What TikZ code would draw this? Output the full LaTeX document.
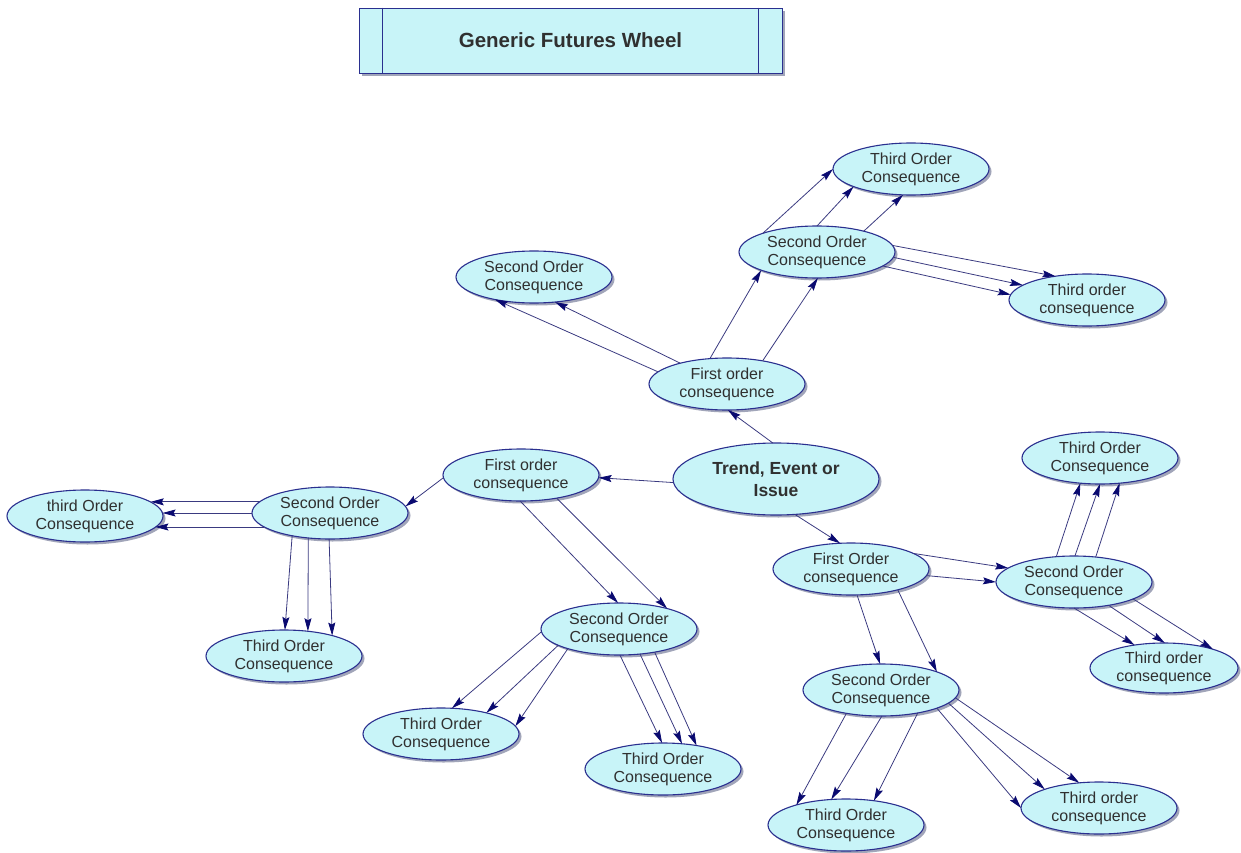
\documentclass[tikz,border=0pt]{standalone}
\usepackage{fontspec}
\setmainfont{Liberation Sans}
\usetikzlibrary{shapes.geometric,arrows.meta,shadows}
\definecolor{cyanfill}{HTML}{C8F4F8}
\definecolor{edgeblue}{HTML}{2A2F8F}
\definecolor{linecol}{HTML}{3A3A80}
\definecolor{tipcol}{HTML}{0A0A70}
\definecolor{shadowcol}{HTML}{8A8FA8}
\definecolor{textcol}{HTML}{303030}
\tikzset{
  ell/.style={ellipse, draw=edgeblue, line width=1.1pt, fill=cyanfill,
    minimum width=156pt, minimum height=52pt, inner sep=0pt, outer sep=0pt,
    align=center, text=textcol, font=\fontsize{16}{18}\selectfont,
    drop shadow={shadow xshift=2.5pt, shadow yshift=-2.5pt, fill=shadowcol, opacity=0.8}},
  centre/.style={ell, minimum width=206pt, minimum height=72pt,
    font=\fontsize{17.5}{22}\selectfont\bfseries},
  titlebox/.style={rectangle, draw=edgeblue, line width=0.8pt, fill=cyanfill,
    minimum width=423pt, minimum height=65pt, inner sep=0pt, text=textcol,
    font=\fontsize{20.5}{24}\selectfont\bfseries,
    drop shadow={shadow xshift=3pt, shadow yshift=-3pt, fill=shadowcol, opacity=0.8}},
  arr/.style={draw=linecol, line width=0.8pt,
    -{Stealth[length=13pt, width=7pt, inset=2pt, color=tipcol]}},
}
\begin{document}
\begin{tikzpicture}[x=1pt,y=-1pt]
\useasboundingbox (0,0) rectangle (1241,853);

% title
\node[titlebox] (title) at (570.5,40.5) {Generic Futures Wheel};
\draw[draw=edgeblue, line width=1.2pt] ([xshift=24pt]title.north west) -- ([xshift=24pt]title.south west);
\draw[draw=edgeblue, line width=1.2pt] ([xshift=-24pt]title.north east) -- ([xshift=-24pt]title.south east);

% nodes
\node[centre] (C) at (776,479) {Trend, Event or\\Issue};
\node[ell] (F1) at (727,384) {First order\\consequence};
\node[ell] (S1) at (534,277) {Second Order\\Consequence};
\node[ell] (S2) at (817,252) {Second Order\\Consequence};
\node[ell] (T1) at (911,169) {Third Order\\Consequence};
\node[ell] (T2) at (1087,300) {Third order\\consequence};
\node[ell] (F2) at (521,475) {First order\\consequence};
\node[ell] (S3) at (330,513) {Second Order\\Consequence};
\node[ell] (T3) at (85,516) {third Order\\Consequence};
\node[ell] (T4) at (284,656) {Third Order\\Consequence};
\node[ell] (S4) at (619,629) {Second Order\\Consequence};
\node[ell] (T5) at (441,734) {Third Order\\Consequence};
\node[ell] (T6) at (663,769) {Third Order\\Consequence};
\node[ell] (F3) at (851,569) {First Order\\consequence};
\node[ell] (S5) at (1074,582) {Second Order\\Consequence};
\node[ell] (T7) at (1100,458) {Third Order\\Consequence};
\node[ell, minimum width=148pt, minimum height=50pt] (T8) at (1164,668) {Third order\\consequence};
\node[ell] (S6) at (881,690) {Second Order\\Consequence};
\node[ell] (T9) at (846,825) {Third Order\\Consequence};
\node[ell] (T10) at (1099,808) {Third order\\consequence};

% connectors
\draw[arr] (C.95) -- (F1.-88);
\draw[arr] (C.182) -- (F2.-2);
\draw[arr] (C.-62) -- (F3.113);

\draw[arr] (F1.170) -- (S1.210);
\draw[arr] (F1.156) -- (S1.-50);
\draw[arr] (F1.124) -- (S2.198);
\draw[arr] (F1.33) -- (S2.-88);

\draw[arr] (S2.161) -- (T1.180);
\draw[arr] (S2.90) -- (T1.197);
\draw[arr] (S2.24) -- (T1.-107);
\draw[arr] (S2.5) -- (T2.143);
\draw[arr] (S2.-4) -- (T2.167);
\draw[arr] (S2.-12) -- (T2.176);

\draw[arr] (F2.182) -- (S3.5);
\draw[arr] (S3.171) -- (T3.12 |- S3.171);
\draw[arr] (S3.180) -- (T3.2 |- S3.180);
\draw[arr] (S3.192) -- (T3.-9 |- S3.192);
\draw[arr] (S3.211) -- (T4.88);
\draw[arr] (S3.229) -- (T4.46);
\draw[arr] (S3.268) -- (T4.23);

\draw[arr] (F2.268) -- (S4.92);
\draw[arr] (F2.-33) -- (S4.23);
\draw[arr] (S4.182) -- (T5.67);
\draw[arr] (S4.195) -- (T5.25);
\draw[arr] (S4.201) -- (T5.6);
\draw[arr] (S4.-88) -- (T6.92);
\draw[arr] (S4.-50) -- (T6.53);
\draw[arr] (S4.-33) -- (T6.35);

\draw[arr] (F3.14) -- (S5.168);
\draw[arr] (F3.-5) -- (S5.180);
\draw[arr] (F3.-77) -- (S6.92);
\draw[arr] (F3.-24) -- (S6.18);

\draw[arr] (S5.125) -- (T7.-128);
\draw[arr] (S5.88) -- (T7.-90);
\draw[arr] (S5.49) -- (T7.-52);
\draw[arr] (S5.-90) -- (T8.142);
\draw[arr] (S5.-34) -- (T8.88);
\draw[arr] (S5.-16) -- (T8.21);

\draw[arr] (S6.214) -- (T9.158);
\draw[arr] (S6.-88) -- (T9.120);
\draw[arr] (S6.-32) -- (T9.41);
\draw[arr] (S6.-18) -- (T10.180);
\draw[arr] (S6.-11) -- (T10.161);
\draw[arr] (S6.-6) -- (T10.128);
\end{tikzpicture}
\end{document}
